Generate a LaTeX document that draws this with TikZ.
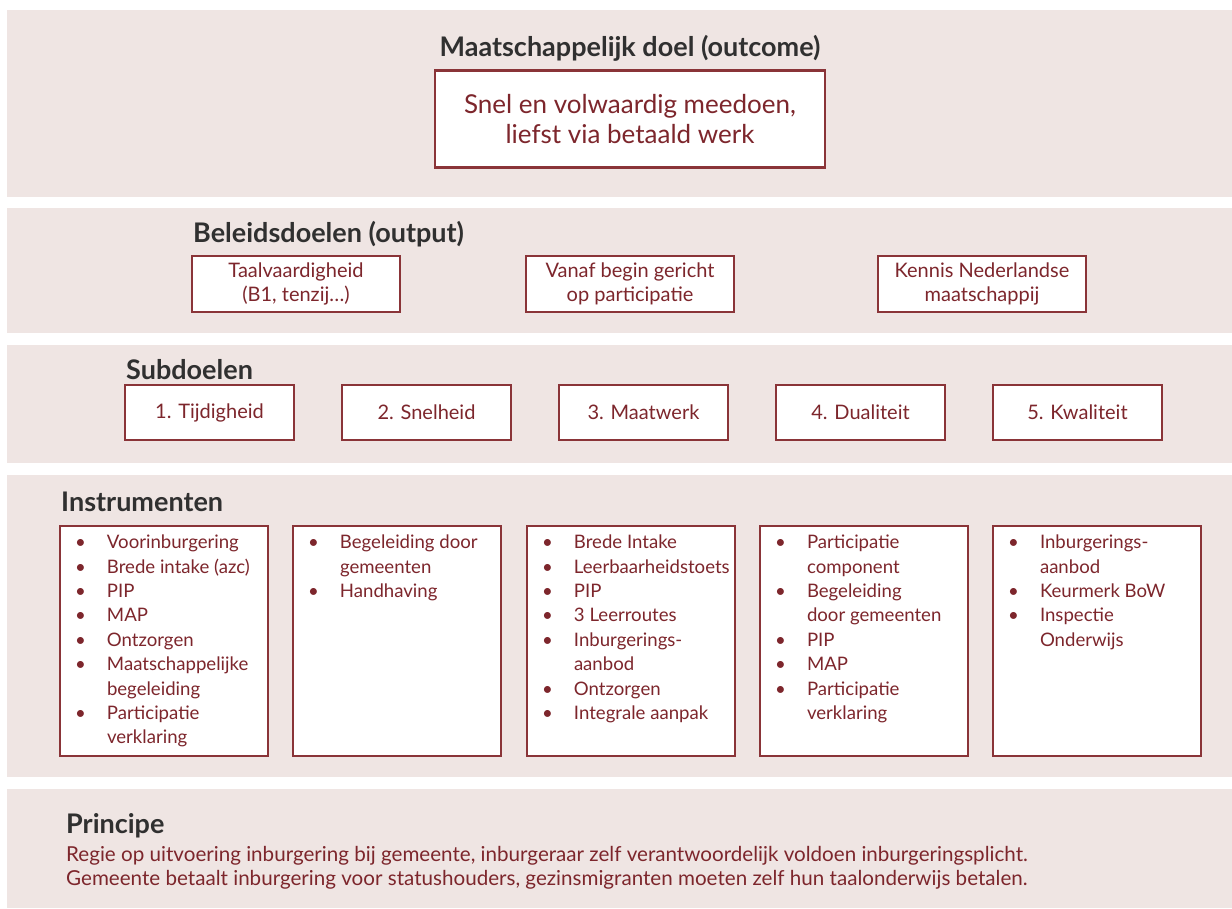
\documentclass[tikz,border=0pt]{standalone}
\usepackage{fontspec}
\setmainfont{Lato}
\definecolor{bandfill}{RGB}{239,229,227}
\definecolor{boxred}{RGB}{138,52,56}
\definecolor{txtred}{RGB}{125,38,44}
\definecolor{headgray}{RGB}{48,48,48}
\newcommand\itm[1]{\par\hangindent=32pt\hangafter=1\noindent\makebox[32pt][l]{\textbullet}#1}
\newcommand\instlist[1]{\parbox[c][212pt][t]{178pt}{\raggedright\fontsize{18.6}{24.4}\selectfont#1}}
\tikzset{
  band/.style={fill=bandfill},
  goalbox/.style={draw=boxred, line width=2.2pt, fill=white, text=txtred,
    inner sep=0pt, outer sep=0pt, align=center, font=\fontsize{20}{24}\selectfont},
  instbox/.style={goalbox, minimum width=208pt, minimum height=230pt, align=left},
  subbox/.style={goalbox, minimum width=169pt, minimum height=55pt},
  outbox/.style={goalbox, minimum width=208pt, minimum height=56pt},
  head/.style={text=headgray, inner sep=0pt, font=\bfseries\fontsize{27}{30}\selectfont},
  principe/.style={text=txtred, inner sep=0pt, font=\fontsize{20.6}{24}\selectfont},
}
\begin{document}
\begin{tikzpicture}[x=1pt,y=-1pt]
  \useasboundingbox (0,0) rectangle (1232,908);
  % bands
  \fill[band] (7,10) rectangle (1232,197);
  \fill[band] (7,208) rectangle (1232,333);
  \fill[band] (7,345) rectangle (1232,463);
  \fill[band] (7,475) rectangle (1232,777);
  \fill[band] (7,789) rectangle (1232,908);

  % outcome
  \node[head] (hdoel) at (630,48) {Maatschappelijk doel (outcome)};
  \node[goalbox, minimum width=390pt, minimum height=97pt,
    font=\fontsize{26}{30}\selectfont] (doel) at (630,119)
    {Snel en volwaardig meedoen,\\liefst via betaald werk};

  % output
  \node[head, anchor=west] (hbeleid) at (193,234) {Beleidsdoelen (output)};
  \node[outbox] (b1) at (296,284) {Taalvaardigheid\\(B1, tenzij…)};
  \node[outbox] (b2) at (630,284) {Vanaf begin gericht\\op participatie};
  \node[outbox] (b3) at (982,284) {Kennis Nederlandse\\maatschappij};

  % subdoelen
  \node[head, anchor=west] (hsub) at (126,370) {Subdoelen};
  \node[subbox] (s1) at (209.5,412.5) {1. Tijdigheid};
  \node[subbox] (s2) at (426.5,412.5) {2. Snelheid};
  \node[subbox] (s3) at (643.5,412.5) {3. Maatwerk};
  \node[subbox] (s4) at (860.5,412.5) {4. Dualiteit};
  \node[subbox] (s5) at (1077.5,412.5) {5. Kwaliteit};

  % instrumenten
  \node[head, anchor=west] (hinst) at (61,502) {Instrumenten};
  \node[instbox] (i1) at (164,641) {\instlist{%
    \itm{Voorinburgering}
    \itm{Brede intake (azc)}
    \itm{PIP}
    \itm{MAP}
    \itm{Ontzorgen}
    \itm{Maatschappelijke\newline begeleiding}
    \itm{Participatie\newline verklaring}}};
  \node[instbox] (i2) at (397,641) {\instlist{%
    \itm{Begeleiding door\newline gemeenten}
    \itm{Handhaving}}};
  \node[instbox] (i3) at (631,641) {\instlist{%
    \itm{Brede Intake}
    \itm{Leerbaarheidstoets}
    \itm{PIP}
    \itm{3 Leerroutes}
    \itm{Inburgerings-\newline aanbod}
    \itm{Ontzorgen}
    \itm{Integrale aanpak}}};
  \node[instbox] (i4) at (864,641) {\instlist{%
    \itm{Participatie\newline component}
    \itm{Begeleiding\newline door gemeenten}
    \itm{PIP}
    \itm{MAP}
    \itm{Participatie\newline verklaring}}};
  \node[instbox] (i5) at (1097,641) {\instlist{%
    \itm{Inburgerings-\newline aanbod}
    \itm{Keurmerk BoW}
    \itm{Inspectie\newline Onderwijs}}};

  % principe
  \node[head, anchor=west] (hprin) at (66,826) {Principe};
  \node[principe, anchor=west] (p1) at (66,856)
    {Regie op uitvoering inburgering bij gemeente, inburgeraar zelf verantwoordelijk voldoen inburgeringsplicht.};
  \node[principe, anchor=west] (p2) at (66,880)
    {Gemeente betaalt inburgering voor statushouders, gezinsmigranten moeten zelf hun taalonderwijs betalen.};
\end{tikzpicture}
\end{document}
